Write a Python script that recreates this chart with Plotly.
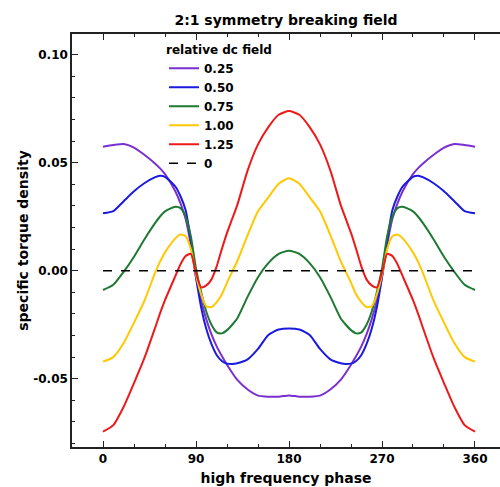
import plotly.graph_objects as go

# phase (degrees) samples for 0..180; curves are mirror-symmetric about 180
phase_half = [0, 10, 20, 30, 40, 50, 55, 60, 70, 75, 80, 85, 90, 95, 100, 105, 110, 115, 120, 125, 130, 140, 150, 160, 170, 180]

f025 = [0.0574, 0.0582, 0.0587, 0.0570, 0.0537, 0.0498, 0.0475, 0.0447, 0.0368, 0.0312, 0.0240, 0.0120, -0.0030, -0.0140, -0.0225, -0.0295, -0.0350, -0.0395, -0.0435, -0.0472, -0.0505, -0.0550, -0.0578, -0.0583, -0.0583, -0.0577]
f050 = [0.0266, 0.0276, 0.0322, 0.0368, 0.0405, 0.0432, 0.0440, 0.0435, 0.0390, 0.0345, 0.0280, 0.0140, -0.0030, -0.0170, -0.0270, -0.0340, -0.0390, -0.0418, -0.0430, -0.0432, -0.0428, -0.0410, -0.0362, -0.0297, -0.0272, -0.0267]
f075 = [-0.0089, -0.0065, -0.0005, 0.0065, 0.0145, 0.0218, 0.0250, 0.0275, 0.0296, 0.0290, 0.0250, 0.0160, 0.0010, -0.0100, -0.0190, -0.0250, -0.0285, -0.0290, -0.0275, -0.0250, -0.0220, -0.0120, -0.0030, 0.0035, 0.0078, 0.0093]
f100 = [-0.0421, -0.0400, -0.0335, -0.0240, -0.0140, -0.0015, 0.0040, 0.0085, 0.0150, 0.0168, 0.0160, 0.0100, -0.0020, -0.0110, -0.0165, -0.0168, -0.0145, -0.0110, -0.0055, -0.0005, 0.0045, 0.0165, 0.0275, 0.0340, 0.0403, 0.0428]
f125 = [-0.0745, -0.0715, -0.0630, -0.0520, -0.0405, -0.0270, -0.0200, -0.0136, -0.0025, 0.0030, 0.0068, 0.0078, -0.0010, -0.0077, -0.0068, -0.0040, 0.0020, 0.0100, 0.0175, 0.0240, 0.0305, 0.0465, 0.0585, 0.0665, 0.0722, 0.0739]

labels = ["0.25", "0.50", "0.75", "1.00", "1.25"]
colors = ["#7A2FD0", "#1A1AE0", "#1E7A32", "#FFC800", "#EE1A1A"]
zero_x = [0, 360]
zero_y = [0, 0]


def full(vals):
    xs = phase_half + [360 - p for p in reversed(phase_half[:-1])]
    ys = vals + list(reversed(vals[:-1]))
    return xs, ys


fig = go.Figure()
for lab, col, vals in zip(labels, colors, [f025, f050, f075, f100, f125]):
    xs, ys = full(vals)
    fig.add_trace(go.Scatter(x=xs, y=ys, mode="lines", name=lab,
                             line=dict(color=col, width=2, shape="spline", smoothing=0.6)))
fig.add_trace(go.Scatter(x=zero_x, y=zero_y, mode="lines", name="0",
                         line=dict(color="black", width=1.5, dash="dash")))

font_family = "DejaVu Sans, Verdana, sans-serif"
fig.update_layout(
    width=500, height=487,
    margin=dict(l=72, r=0, t=34, b=40),
    paper_bgcolor="white", plot_bgcolor="white",
    font=dict(family=font_family, size=12, color="black", weight="bold"),
    title=dict(text="2:1 symmetry breaking field", x=0.5, xref="paper", y=1 - 20 / 487,
               yanchor="middle", font=dict(size=14, weight="bold")),
    showlegend=True,
    legend=dict(title=dict(text="relative dc field", font=dict(size=12, weight="bold")),
                x=0.215, y=0.99, xanchor="left", yanchor="top",
                bgcolor="rgba(0,0,0,0)", borderwidth=0,
                font=dict(size=12, weight="bold"), tracegroupgap=0),
)
fig.update_xaxes(
    range=[-30, 384.2], tickmode="array", tickvals=[0, 90, 180, 270, 360],
    ticks="inside", ticklen=6, tickwidth=1.2, tickcolor="#222",
    showline=True, linecolor="#222", linewidth=1.5, mirror="ticks",
    showgrid=False, zeroline=False,
    minor=dict(dtick=30, tick0=0, ticks="inside", ticklen=3, tickcolor="#222", showgrid=False),
    title=dict(text="high frequency phase", font=dict(size=14, weight="bold"), standoff=8),
    tickfont=dict(size=12, weight="bold"),
)
fig.update_yaxes(
    range=[-0.0816, 0.1096], tickmode="array", tickvals=[-0.05, 0.0, 0.05, 0.10],
    ticktext=["-0.05", "0.00", "0.05", "0.10"],
    ticks="inside", ticklen=6, tickwidth=1.2, tickcolor="#222",
    showline=True, linecolor="#222", linewidth=1.5, mirror=False,
    showgrid=False, zeroline=False,
    minor=dict(dtick=0.01, tick0=0, ticks="inside", ticklen=3, tickcolor="#222", showgrid=False),
    title=dict(text="specific torque density", font=dict(size=14, weight="bold"), standoff=1),
    tickfont=dict(size=12, weight="bold"),
)

fig.write_html("out.html")
